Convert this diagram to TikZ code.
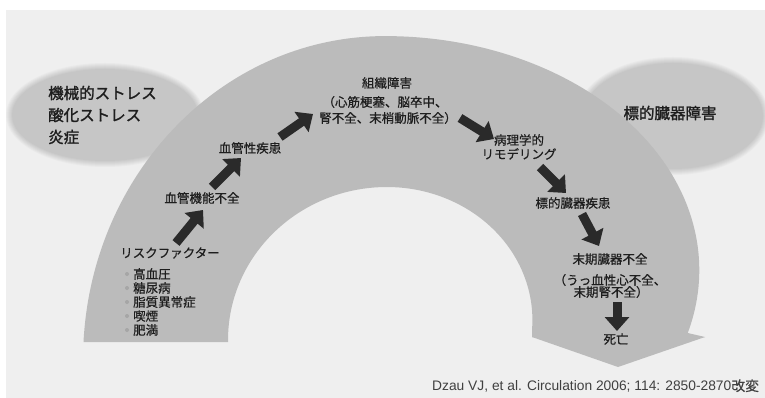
\documentclass[tikz,border=0pt]{standalone}
\usepackage{fontspec}
\usetikzlibrary{arrows.meta}
\newfontfamily\jp{Noto Sans CJK JP}[FakeBold=0.6]
\newfontfamily\jpb{Noto Sans CJK JP}[FakeBold=1.6]
\newfontfamily\citefont{Liberation Sans}
\definecolor{bgc}{HTML}{EFEFEF}
\definecolor{archc}{HTML}{BBBBBB}
\definecolor{ellc}{HTML}{C6C6C6}
\definecolor{arrc}{HTML}{2A2A2A}
\definecolor{txtc}{HTML}{1E1E1E}
\tikzset{
  lbl/.style={inner sep=0pt, text=txtc, font=\jp\fontsize{12.5}{14}\selectfont},
  big/.style={inner sep=0pt, text=txtc, font=\jpb\fontsize{15.5}{18}\selectfont},
  blk/.style={draw=arrc, line width=9pt, -{Triangle[length=14pt,width=24pt]}},
  dot/.style={circle, fill=gray!70, inner sep=0pt, minimum size=4pt}
}
\begin{document}
\begin{tikzpicture}[x=1pt,y=-1pt]
\useasboundingbox (0,0) rectangle (765,398);
\fill[white] (0,0) rectangle (765,398);
\fill[bgc] (6,10) rectangle (765,398);
% side ellipses (soft edge)
\foreach \k in {0,...,6}{
  \pgfmathsetmacro{\pc}{100*(\k+1)/7}
  \fill[ellc!\pc!bgc] (105,115) ellipse [x radius=99-\k, y radius=52-\k];
  \fill[ellc!\pc!bgc] (673,116) ellipse [x radius=96-\k, y radius=59-\k];
}
% arch arrow: band
\coordinate (al) at (83.5,342);
\coordinate (wr) at (705,337);
\coordinate (atip) at (618,367);
\coordinate (wl) at (532,337);
\coordinate (ir) at (532,330);
\coordinate (il) at (228,342);
\fill[archc] (al)
  arc[start angle=183.2, end angle=270, x radius=302, y radius=324]
  arc[start angle=-90, end angle=15.6, x radius=314.3, y radius=234]
  -- (wr) -- (wl) -- (ir)
  arc[start angle=4.31, end angle=-90, x radius=145.4, y radius=133]
  arc[start angle=-90, end angle=-180, x radius=159, y radius=153]
  -- (il) -- cycle;
% arch arrow: head
\fill[archc] (wl) -- (atip) -- (wr) -- cycle;
% ellipse texts
\node[big, anchor=west] (m1) at (48,93) {機械的ストレス};
\node[big, anchor=west] (m2) at (48,115) {酸化ストレス};
\node[big, anchor=west] (m3) at (48,137) {炎症};
\node[big] (tod) at (670,113) {標的臓器障害};
% labels
\node[lbl] (rf) at (170,253) {リスクファクター};
\foreach \t/\yy [count=\i] in {高血圧/274, 糖尿病/288, 脂質異常症/302, 喫煙/316, 肥満/330}{
  \node[dot] (b\i) at (127,\yy) {};
  \node[lbl, anchor=west] (r\i) at (133,\yy) {\t};
}
\node[lbl] (vf) at (202,198) {血管機能不全};
\node[lbl] (vd) at (250,148) {血管性疾患};
\node[lbl] (ti) at (387,83) {組織障害};
\node[lbl] (ti2) at (385,102) {（心筋梗塞、脳卒中、};
\node[lbl] (ti3) at (388,118) {腎不全、末梢動脈不全）};
\node[lbl] (pa) at (519,140) {病理学的};
\node[lbl] (pa2) at (519,154) {リモデリング};
\node[lbl] (td) at (573,203) {標的臓器疾患};
\node[lbl] (es) at (610,259) {末期臓器不全};
\node[lbl] (es2) at (610,280) {（うっ血性心不全、};
\node[lbl] (es3) at (611,292) {末期腎不全）};
\node[lbl] (de) at (616,339) {死亡};
% arrows
\coordinate (a1s) at (176,243); \coordinate (a1e) at (203,210);
\coordinate (a2s) at (212,187); \coordinate (a2e) at (241,158);
\coordinate (a3s) at (280,137); \coordinate (a3e) at (313,114);
\coordinate (a4s) at (460,118); \coordinate (a4e) at (494,139);
\coordinate (a5s) at (540,167); \coordinate (a5e) at (566,193);
\coordinate (a6s) at (582,214); \coordinate (a6e) at (599,246);
\coordinate (a7s) at (617,302); \coordinate (a7e) at (617,331);
\draw[blk] (a1s) -- (a1e);
\draw[blk] (a2s) -- (a2e);
\draw[blk] (a3s) -- (a3e);
\draw[blk] (a4s) -- (a4e);
\draw[blk] (a5s) -- (a5e);
\draw[blk] (a6s) -- (a6e);
\draw[blk] (a7s) -- (a7e);
% citation
\node[inner sep=0pt, anchor=west, text=black!75, font=\citefont\fontsize{13.8}{16}\selectfont] (ci) at (432,386) {Dzau VJ, et al. Circulation 2006; 114: 2850-2870{\jp 改変}};
\end{tikzpicture}
\end{document}
